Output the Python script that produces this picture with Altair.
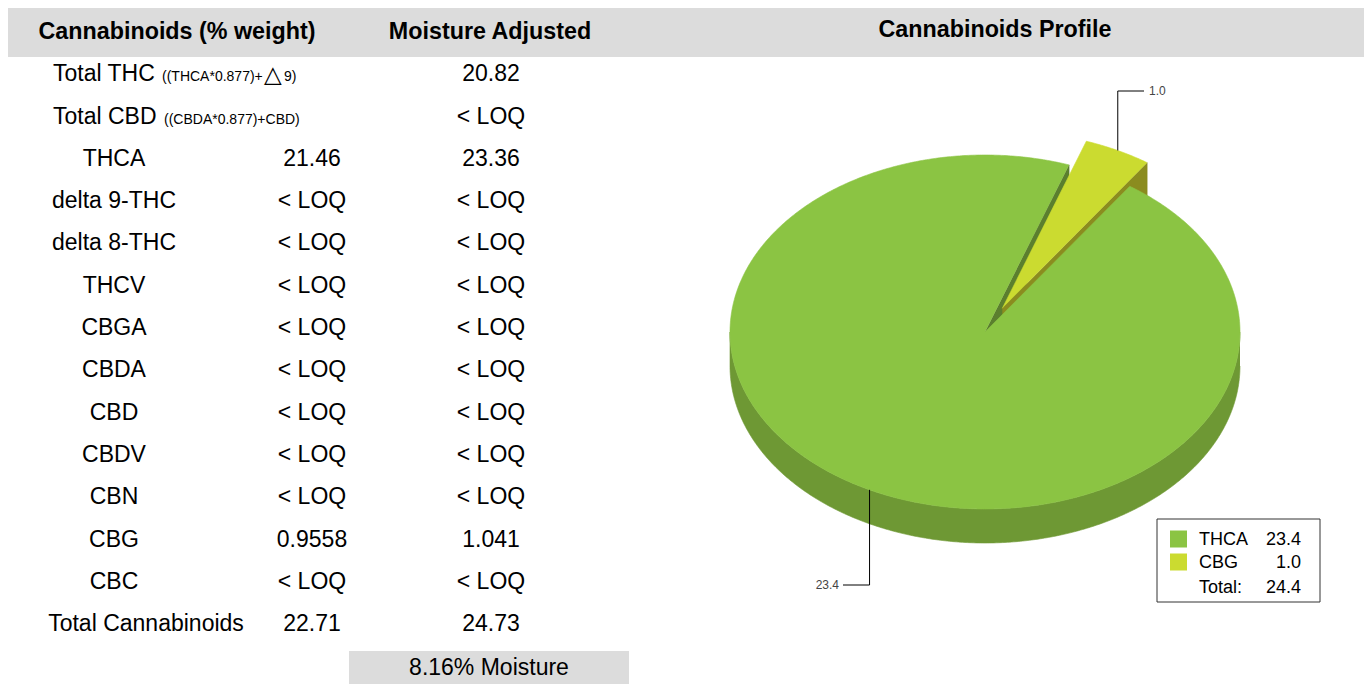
import math
import numpy as np
import pandas as pd
import altair as alt

# ---------------- data ----------------
header_left = "Cannabinoids (% weight)"
header_mid = "Moisture Adjusted"
header_right = "Cannabinoids Profile"

row_names = ["Total THC", "Total CBD", "THCA", "delta 9-THC", "delta 8-THC", "THCV",
             "CBGA", "CBDA", "CBD", "CBDV", "CBN", "CBG", "CBC", "Total Cannabinoids"]
row_notes = ["((THCA*0.877)+", "((CBDA*0.877)+CBD)", "", "", "", "", "", "", "", "", "", "", "", ""]
weight_vals = ["", "", "21.46", "< LOQ", "< LOQ", "< LOQ", "< LOQ", "< LOQ", "< LOQ",
               "< LOQ", "< LOQ", "0.9558", "< LOQ", "22.71"]
adjusted_vals = ["20.82", "< LOQ", "23.36", "< LOQ", "< LOQ", "< LOQ", "< LOQ", "< LOQ",
                 "< LOQ", "< LOQ", "< LOQ", "1.041", "< LOQ", "24.73"]
moisture_label = "8.16% Moisture"

pie_labels = ["THCA", "CBG"]
pie_values = [23.36, 1.041]

# ---------------- style / layout ----------------
FONT = "Liberation Sans"
GRAY = "#dcdcdc"
W, H = 1356, 676
X0, Y0 = 8, 8
xs = alt.Scale(domain=[X0, X0 + W], nice=False, zero=False)
ys = alt.Scale(domain=[Y0 + H, Y0], nice=False, zero=False)
XE = alt.X("x:Q", scale=xs, axis=None)
YE = alt.Y("y:Q", scale=ys, axis=None)

top_colors = ["#8bc443", "#cbdb30"]
wall_colors = ["#6e9834", "#9aa323"]
face_colors = ["#5b7f2e", "#8b8c1f"]
explode = [0.0, 0.15]
CX, CY, RX, RY, DEPTH = 985.0, 332.0, 255.0, 177.0, 34.0
START = 34.6

layers = []


def rect_layer(x, x2, y, y2, fill, stroke=None, sw=0):
    df = pd.DataFrame({"x": [x], "x2": [x2], "y": [y], "y2": [y2]})
    kw = dict(fill=fill)
    if stroke:
        kw.update(stroke=stroke, strokeWidth=sw)
    return alt.Chart(df).mark_rect(**kw).encode(x=XE, x2="x2:Q", y=YE, y2="y2:Q")


def text_layer(df, size, weight="normal", align="center", color="#000000", font=FONT):
    return alt.Chart(df).mark_text(font=font, fontSize=size, fontWeight=weight, align=align,
                                   baseline="alphabetic", color=color).encode(
        x=XE, y=YE, text="text:N")


# header band and moisture box
layers.append(rect_layer(X0, X0 + W, Y0, 57, GRAY))
layers.append(rect_layer(349, 629, 651, Y0 + H, GRAY))

# headers
hdr = pd.DataFrame({"x": [177, 490, 995], "y": [38.5, 38.5, 36.5],
                    "text": [header_left, header_mid, header_right]})
layers.append(text_layer(hdr, 23.3, weight="bold"))

# table body
ROW0, DY, BASE = 73.0, 42.3, 8.2
name_rows, left_rows, note_rows = [], [], []
for i, (nm, note) in enumerate(zip(row_names, row_notes)):
    yb = ROW0 + DY * i + BASE
    if note:
        left_rows.append({"x": 53, "y": yb, "text": nm})
        note_rows.append({"x": 162 if i == 0 else 164, "y": yb, "text": note})
    elif i == len(row_names) - 1:
        name_rows.append({"x": 146, "y": yb, "text": nm})
    else:
        name_rows.append({"x": 114, "y": yb, "text": nm})
layers.append(text_layer(pd.DataFrame(name_rows), 23))
layers.append(text_layer(pd.DataFrame(left_rows), 23, align="left"))
layers.append(text_layer(pd.DataFrame(note_rows), 14, align="left"))
# delta symbol part of the Total THC formula
yb0 = ROW0 + BASE
layers.append(text_layer(pd.DataFrame({"x": [264], "y": [yb0 + 1], "text": ["\u25b3"]}), 23,
                         align="left", font="DejaVu Sans"))
layers.append(text_layer(pd.DataFrame({"x": [284], "y": [yb0], "text": ["9)"]}), 14, align="left"))

col2 = [{"x": 312, "y": ROW0 + DY * i + BASE, "text": v} for i, v in enumerate(weight_vals) if v]
col3 = [{"x": 491, "y": ROW0 + DY * i + BASE, "text": v} for i, v in enumerate(adjusted_vals) if v]
layers.append(text_layer(pd.DataFrame(col2), 23))
layers.append(text_layer(pd.DataFrame(col3), 23))
layers.append(text_layer(pd.DataFrame({"x": [489], "y": [667 + BASE], "text": [moisture_label]}), 23))

# ---------------- 3D pie ----------------
total = sum(pie_values)
spans = []
a = START
for v in pie_values:
    sweep = v / total * 360.0
    spans.append((a, a + sweep))
    a += sweep


def pt(theta, ox, oy, dz=0.0):
    t = math.radians(theta)
    return (CX + ox + RX * math.sin(t), CY + oy - RY * math.cos(t) + dz)


def arc(a0, a1, ox, oy, dz=0.0):
    n = max(2, int(abs(a1 - a0) * 2) + 1)
    return [pt(t, ox, oy, dz) for t in np.linspace(a0, a1, n)]


def poly_layer(points, color):
    df = pd.DataFrame({"x": [p[0] for p in points], "y": [p[1] for p in points],
                       "i": list(range(len(points)))})
    return alt.Chart(df).mark_line(fill=color, stroke=color, strokeWidth=0.6).encode(
        x=XE, y=YE, order="i:Q")


offsets = []
for (a0, a1), e in zip(spans, explode):
    mid = math.radians((a0 + a1) / 2)
    offsets.append((e * RX * math.sin(mid), -e * RY * math.cos(mid)))

walls, faces, tops = [], [], []
for k, ((a0, a1), (ox, oy)) in enumerate(zip(spans, offsets)):
    for lo, hi in [(90, 270), (450, 630)]:
        s, e_ = max(a0, lo), min(a1, hi)
        if e_ > s:
            pts = arc(s, e_, ox, oy) + arc(e_, s, ox, oy, DEPTH)
            walls.append((pts, wall_colors[k]))
    c = (CX + ox, CY + oy)
    cd = (CX + ox, CY + oy + DEPTH)
    if math.sin(math.radians(a0)) < 0:
        faces.append(([c, pt(a0, ox, oy), pt(a0, ox, oy, DEPTH), cd], face_colors[k]))
    if math.sin(math.radians(a1)) > 0:
        faces.append(([c, pt(a1, ox, oy), pt(a1, ox, oy, DEPTH), cd], face_colors[k]))
    tops.append(([c] + arc(a0, a1, ox, oy), top_colors[k]))

for pts, col in walls + faces + tops[::-1]:
    layers.append(poly_layer(pts, col))

# leader lines and labels
label_y = [585, 91]
label_end = [843, 1144]
lines, lab_left, lab_right = [], [], []
for k, ((a0, a1), (ox, oy)) in enumerate(zip(spans, offsets)):
    mx, my = pt((a0 + a1) / 2, ox, oy)
    for j, (x, y) in enumerate([(mx, my), (mx, label_y[k]), (label_end[k], label_y[k])]):
        lines.append({"x": x, "y": y, "i": j, "s": pie_labels[k]})
    txt = f"{pie_values[k]:.1f}"
    if label_end[k] < mx:
        lab_right.append({"x": label_end[k] - 4, "y": label_y[k] + 4.3, "text": txt})
    else:
        lab_left.append({"x": label_end[k] + 5, "y": label_y[k] + 4.3, "text": txt})
layers.append(alt.Chart(pd.DataFrame(lines)).mark_line(stroke="#000000", strokeWidth=1).encode(
    x=XE, y=YE, order="i:Q", detail="s:N"))
layers.append(text_layer(pd.DataFrame(lab_right), 12, align="right", color="#444444"))
layers.append(text_layer(pd.DataFrame(lab_left), 12, align="left", color="#444444"))

# legend box
layers.append(rect_layer(1157, 1320, 519, 602, "#ffffff", stroke="#333333", sw=1))
leg_y = [539, 562]
for k, lab in enumerate(pie_labels):
    layers.append(rect_layer(1170, 1187, leg_y[k] - 8.5, leg_y[k] + 8.5, top_colors[k]))
leg_names = pd.DataFrame({"x": [1199] * 3, "y": [leg_y[0] + 6.4, leg_y[1] + 6.4, 587 + 6.4],
                          "text": pie_labels + ["Total:"]})
leg_vals = pd.DataFrame({"x": [1301] * 3, "y": [leg_y[0] + 6.4, leg_y[1] + 6.4, 587 + 6.4],
                         "text": [f"{v:.1f}" for v in pie_values] + [f"{total:.1f}"]})
layers.append(text_layer(leg_names, 18, align="left"))
layers.append(text_layer(leg_vals, 18, align="right"))

chart = alt.layer(*layers).properties(
    width=W, height=H, padding=0, background="#ffffff",
    autosize=alt.AutoSizeParams(type="none"),
).configure_view(stroke=None)

chart.save("out.html", embed_options={"renderer": "svg", "actions": False})
